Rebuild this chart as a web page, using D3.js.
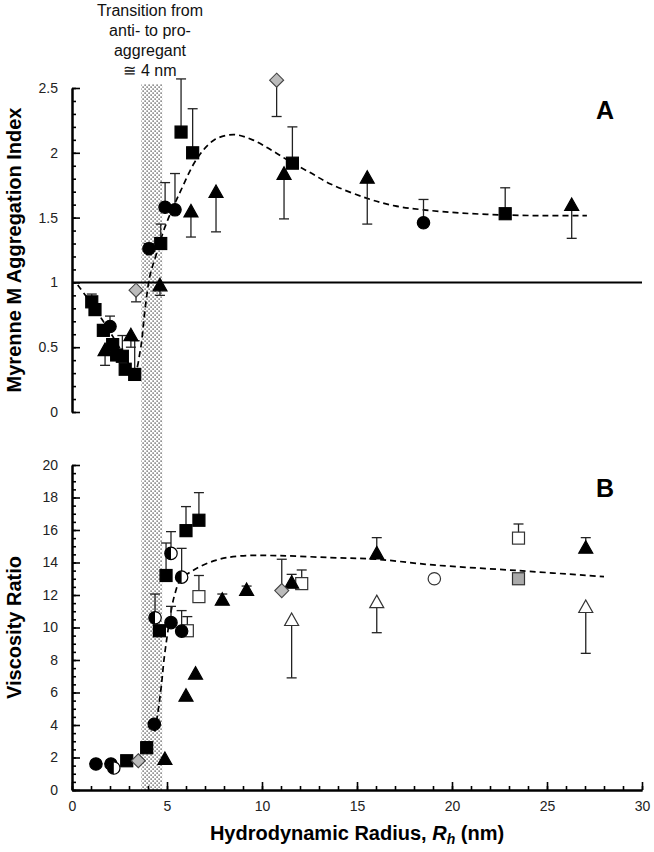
<!DOCTYPE html>
<html><head><meta charset="utf-8">
<script src="https://cdn.jsdelivr.net/npm/d3@7"></script>
<style>
body{margin:0;background:#fff}
text{font-family:"Liberation Sans",Arial,Helvetica,sans-serif}
</style>
</head><body>
<svg id="c" width="654" height="852"></svg>
<script>
// ---------- DATA ----------
const xTicks = [0, 5, 10, 15, 20, 25, 30];
const xMinorTicks = d3.range(0, 31, 1);
const yTicksA = [0, 0.5, 1, 1.5, 2, 2.5];
const yMinorTicksA = d3.range(0, 2.51, 0.1);
const yTicksB = [0, 2, 4, 6, 8, 10, 12, 14, 16, 18, 20];
const yMinorTicksB = d3.range(0, 20.01, 0.5);
const transitionRange = [3.65, 4.75];
const referenceLineA = 1;
const annotationLines = ["Transition from", "anti- to pro-", "aggregant", "\u2245 4 nm"];

// Panel A  [Rh (nm), aggregation index, error-bar end]
const aFilledSquares = [[1.04,0.85,0.91],[1.21,0.79,null],[1.65,0.63,null],[2.14,0.52,null],[2.35,0.44,null],[2.65,0.43,0.59],[2.8,0.33,null],[3.3,0.29,0.55],[4.67,1.30,1.45],[5.74,2.16,2.57],[6.35,2.0,2.34],[11.6,1.92,2.2],[22.8,1.53,1.73]];
const aFilledCircles = [[2.0,0.66,0.74],[4.05,1.26,1.30],[4.9,1.58,1.77],[5.42,1.56,1.84],[18.5,1.46,1.64]];
const aFilledTriangles = [[1.74,0.47,0.36],[3.1,0.585,0.50],[4.63,0.97,0.90],[6.26,1.54,1.35],[7.58,1.69,1.39],[11.16,1.83,1.49],[15.54,1.80,1.45],[26.3,1.59,1.34]];
const aGrayDiamonds = [[3.37,0.94,0.85],[10.77,2.56,2.28]];
const aFitCurve = [[0.3,0.98],[1.0,0.84],[1.6,0.71],[2.2,0.57],[2.8,0.42],[3.3,0.31],[3.6,0.48],[3.85,0.8],[4.1,1.05],[4.4,1.2],[4.9,1.43],[5.7,1.7],[6.6,1.96],[7.5,2.1],[8.5,2.14],[9.5,2.1],[10.5,2.02],[11.5,1.93],[12.5,1.85],[13.6,1.76],[15.5,1.65],[17,1.59],[18.5,1.56],[20.5,1.535],[22.8,1.52],[25,1.515],[27.1,1.515]];

// Panel B  [Rh (nm), viscosity ratio, error-bar end]
const bFilledSquares = [[2.88,1.8,null],[3.93,2.6,2.97],[4.6,9.8,null],[4.95,13.2,15.2],[6.0,15.96,17.44],[6.68,16.6,18.3]];
const bFilledCircles = [[1.26,1.6,null],[2.05,1.6,null],[4.33,4.05,null],[5.21,10.3,11.3],[5.77,9.78,11.04]];
const bHalfCircles = [[2.2,1.35,null],[4.37,10.6,12.06],[5.21,14.56,15.9],[5.77,13.1,14.87]];
const bOpenSquares = [[6.07,9.8,10.67],[6.68,11.9,13.2],[12.09,12.7,13.54],[23.5,15.5,16.37]];
const bOpenCircles = [[19.07,13.0,null]];
const bFilledTriangles = [[4.89,1.85,null],[6.0,5.74,null],[6.5,7.1,null],[7.91,11.65,12.06],[9.19,12.25,12.55],[11.56,12.7,13.27],[16.04,14.5,15.53],[27.04,14.85,15.53]];
const bOpenTriangles = [[11.56,10.4,6.9],[16.04,11.5,9.68],[27.04,11.2,8.41]];
const bGrayDiamonds = [[3.49,1.8,null],[11.04,12.27,14.2]];
const bGraySquares = [[23.5,13.0,null]];
const bFitCurve = [[4.35,3.6],[4.5,4.6],[4.7,6.4],[4.85,8.1],[5.0,9.4],[5.2,10.9],[5.4,12.0],[5.7,12.9],[6.5,13.6],[7.6,14.15],[8.8,14.4],[10.9,14.42],[13.6,14.3],[16,14.2],[19,13.85],[23.5,13.5],[28,13.13]];

// ---------- CHART ----------
const svg = d3.select("#c");
const x = d3.scaleLinear([0, 30], [72, 642]);
const yA = d3.scaleLinear([0, 2.5], [412, 88]);
const yB = d3.scaleLinear([0, 20], [790, 465]);

const defs = svg.append("defs");
const pat = defs.append("pattern").attr("id","dots").attr("width",4).attr("height",4)
  .attr("patternUnits","userSpaceOnUse");
pat.append("rect").attr("width",4).attr("height",4).attr("fill","#fff");
pat.append("rect").attr("x",0.5).attr("y",0.5).attr("width",1.2).attr("height",1.2).attr("fill","#222");
pat.append("rect").attr("x",2.5).attr("y",2.5).attr("width",1.2).attr("height",1.2).attr("fill","#222");

// transition band
svg.append("rect")
  .attr("x", x(transitionRange[0])).attr("width", x(transitionRange[1]) - x(transitionRange[0]))
  .attr("y", yA(2.53)).attr("height", yB(0) - yA(2.53))
  .attr("fill", "url(#dots)");

// annotation
const ann = svg.append("text").attr("text-anchor","middle").attr("font-size",16).attr("fill","#111");
annotationLines.forEach((l,i)=> ann.append("tspan").attr("x", 150).attr("y", 16 + i*20).text(l));

// axes
function styleAxis(g){
  g.selectAll(".domain").attr("stroke","#000").attr("stroke-width",2);
  g.selectAll(".tick line").attr("stroke","#000").attr("stroke-width",1.6);
  g.selectAll(".tick text").attr("font-size",14).attr("fill","#222")
    .attr("font-family",'"Liberation Sans",Arial,sans-serif');
}
// panel A y axis
const gA = svg.append("g").attr("transform",`translate(${x(0)},0)`);
gA.append("g").call(d3.axisLeft(yA).tickValues(yMinorTicksA).tickSize(-4).tickSizeOuter(0).tickFormat("")).call(styleAxis);
gA.append("g").call(d3.axisLeft(yA).tickValues(yTicksA).tickSize(-8).tickSizeOuter(0).tickPadding(14).tickFormat(d3.format(""))).call(styleAxis);
// panel B y axis
const gB = svg.append("g").attr("transform",`translate(${x(0)},0)`);
gB.append("g").call(d3.axisLeft(yB).tickValues(yMinorTicksB).tickSize(-4).tickSizeOuter(0).tickFormat("")).call(styleAxis);
gB.append("g").call(d3.axisLeft(yB).tickValues(yTicksB).tickSize(-8).tickSizeOuter(0).tickPadding(14)).call(styleAxis);
// x axis
const gX = svg.append("g").attr("transform",`translate(0,${yB(0)})`);
gX.append("g").call(d3.axisBottom(x).tickValues(xMinorTicks).tickSize(-4).tickSizeOuter(0).tickFormat("")).call(styleAxis);
gX.append("g").call(d3.axisBottom(x).tickValues(xTicks).tickSize(-8).tickSizeOuter(0).tickPadding(11)).call(styleAxis);

// reference line y=1
svg.append("line").attr("x1", x(0)).attr("x2", x(30)).attr("y1", yA(referenceLineA)).attr("y2", yA(referenceLineA))
  .attr("stroke","#000").attr("stroke-width",2);

// fit curves
const lineGen = (ys) => d3.line().x(d=>x(d[0])).y(d=>ys(d[1])).curve(d3.curveCatmullRom.alpha(0.5));
svg.append("path").attr("d", lineGen(yA)(aFitCurve)).attr("fill","none").attr("stroke","#000")
  .attr("stroke-width",1.7).attr("stroke-dasharray","6,4");
svg.append("path").attr("d", lineGen(yB)(bFitCurve)).attr("fill","none").attr("stroke","#000")
  .attr("stroke-width",1.7).attr("stroke-dasharray","6,4");

// error bars
function errorBars(data, ys){
  const g = svg.append("g").attr("stroke","#222").attr("stroke-width",1.3);
  data.filter(d=>d[2]!=null).forEach(d=>{
    g.append("line").attr("x1",x(d[0])).attr("x2",x(d[0])).attr("y1",ys(d[1])).attr("y2",ys(d[2]));
    g.append("line").attr("x1",x(d[0])-5).attr("x2",x(d[0])+5).attr("y1",ys(d[2])).attr("y2",ys(d[2]));
  });
}
// markers
function square(data, ys, fill){
  svg.append("g").selectAll("rect").data(data).join("rect")
    .attr("x",d=>x(d[0])-6).attr("y",d=>ys(d[1])-6).attr("width",12).attr("height",12)
    .attr("fill",fill).attr("stroke",fill==="#000"?"#000":"#333").attr("stroke-width",1.2);
}
function circle(data, ys, fill){
  svg.append("g").selectAll("circle").data(data).join("circle")
    .attr("cx",d=>x(d[0])).attr("cy",d=>ys(d[1])).attr("r",6.2)
    .attr("fill",fill).attr("stroke",fill==="#000"?"#000":"#333").attr("stroke-width",1.2);
}
function halfCircle(data, ys){
  const g = svg.append("g");
  data.forEach(d=>{
    const cx=x(d[0]), cy=ys(d[1]), r=6.2;
    g.append("circle").attr("cx",cx).attr("cy",cy).attr("r",r).attr("fill","#fff").attr("stroke","#000").attr("stroke-width",1.2);
    g.append("path").attr("d",`M${cx},${cy-r}A${r},${r} 0 0 0 ${cx},${cy+r}Z`).attr("fill","#000");
  });
}
function triangle(data, ys, fill){
  svg.append("g").selectAll("path").data(data).join("path")
    .attr("d",d=>{const cx=x(d[0]), cy=ys(d[1]); return `M${cx},${cy-8}L${cx+7},${cy+4.5}L${cx-7},${cy+4.5}Z`;})
    .attr("fill",fill).attr("stroke",fill==="#000"?"#000":"#333").attr("stroke-width",1.2);
}
function diamond(data, ys){
  svg.append("g").selectAll("path").data(data).join("path")
    .attr("d",d=>{const cx=x(d[0]), cy=ys(d[1]); return `M${cx},${cy-7}L${cx+7},${cy}L${cx},${cy+7}L${cx-7},${cy}Z`;})
    .attr("fill","#bbb").attr("stroke","#444").attr("stroke-width",1.1);
}

// Panel A
[aFilledSquares,aFilledCircles,aFilledTriangles,aGrayDiamonds].forEach(s=>errorBars(s,yA));
square(aFilledSquares,yA,"#000");
circle(aFilledCircles,yA,"#000");
triangle(aFilledTriangles,yA,"#000");
diamond(aGrayDiamonds,yA);

// Panel B
[bFilledSquares,bFilledCircles,bHalfCircles,bOpenSquares,bOpenCircles,bFilledTriangles,bOpenTriangles,bGrayDiamonds,bGraySquares].forEach(s=>errorBars(s,yB));
square(bFilledSquares,yB,"#000");
square(bOpenSquares,yB,"#fff");
square(bGraySquares,yB,"#aaa");
circle(bFilledCircles,yB,"#000");
circle(bOpenCircles,yB,"#fff");
halfCircle(bHalfCircles,yB);
triangle(bFilledTriangles,yB,"#000");
triangle(bOpenTriangles,yB,"#fff");
diamond(bGrayDiamonds,yB);

// panel letters
svg.append("text").attr("x",605).attr("y",119).attr("text-anchor","middle").attr("font-size",25).attr("font-weight","bold").text("A");
svg.append("text").attr("x",605).attr("y",497).attr("text-anchor","middle").attr("font-size",25).attr("font-weight","bold").text("B");

// axis titles
svg.append("text").attr("transform",`translate(21,${(yA(0)+yA(2.5))/2}) rotate(-90)`).attr("text-anchor","middle")
  .attr("font-size",20).attr("font-weight","bold").text("Myrenne M Aggregation Index");
svg.append("text").attr("transform",`translate(21,${(yB(0)+yB(20))/2}) rotate(-90)`).attr("text-anchor","middle")
  .attr("font-size",20).attr("font-weight","bold").text("Viscosity Ratio");
const xt = svg.append("text").attr("x",357).attr("y",840).attr("text-anchor","middle").attr("font-size",20).attr("font-weight","bold");
xt.append("tspan").text("Hydrodynamic Radius, ");
xt.append("tspan").attr("font-style","italic").text("R");
xt.append("tspan").attr("font-style","italic").attr("font-size",14).attr("dy",4).text("h");
xt.append("tspan").attr("dy",-4).text(" (nm)");
</script>
</body></html>
